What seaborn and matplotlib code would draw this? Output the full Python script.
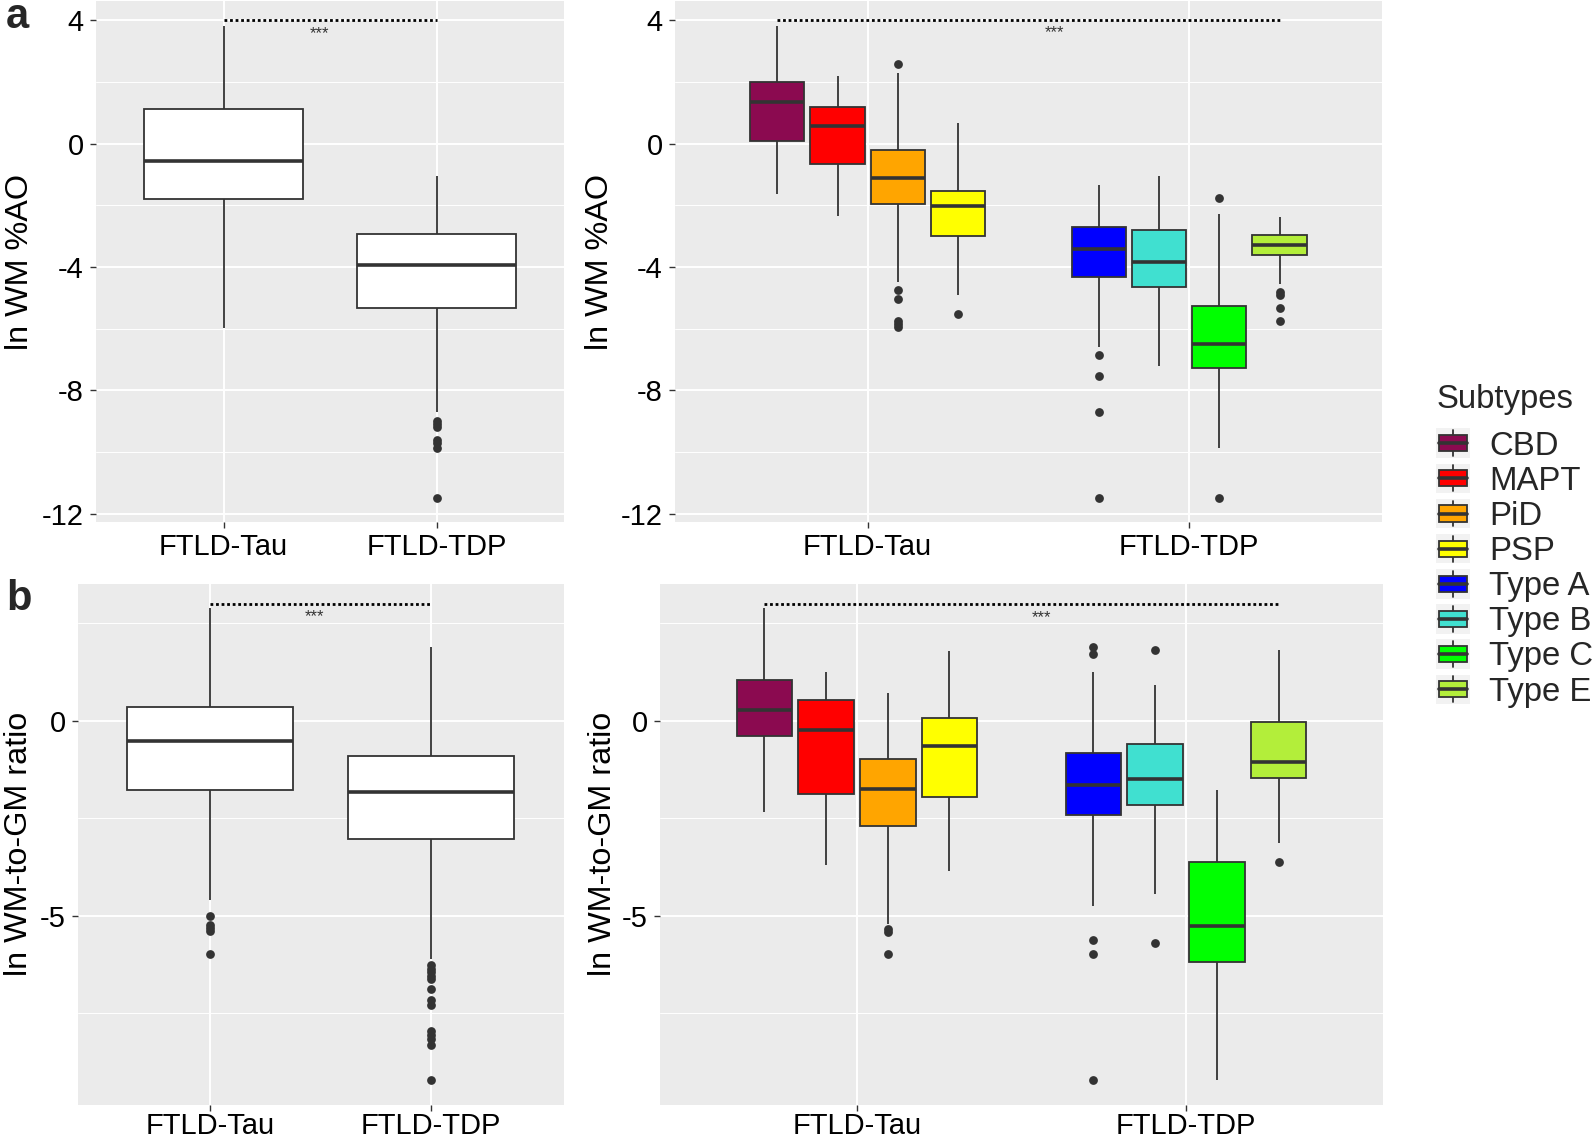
import pandas as pd
import seaborn as sns
import matplotlib.pyplot as plt
from matplotlib.patches import Patch, Rectangle
from matplotlib.lines import Line2D
from matplotlib.legend_handler import HandlerBase

# grupos y subtipos
groups = ["FTLD-Tau", "FTLD-TDP"]
subtypes = ["CBD", "MAPT", "PiD", "PSP", "Type A", "Type B", "Type C", "Type E"]
subtype_group = [0, 0, 0, 0, 1, 1, 1, 1]
subtype_colors = ["#8B0A50", "#FF0000", "#FFA500", "#FFFF00",
                  "#0000FF", "#40E0D0", "#00FF00", "#B3EE3A"]

# a) ln WM %AO por grupo: bigote inf, Q1, mediana, Q3, bigote sup
wm_grp_lo = [-5.99, -8.70]
wm_grp_q1 = [-1.80, -5.32]
wm_grp_med = [-0.55, -3.93]
wm_grp_q3 = [1.12, -2.92]
wm_grp_hi = [3.82, -1.04]
wm_grp_out = [[], [-9.0, -9.1, -9.2, -9.6, -9.7, -9.87, -11.5]]

# a) ln WM %AO por subtipo
wm_sub_lo = [-1.63, -2.36, -4.49, -4.91, -6.61, -7.21, -9.86, -4.54]
wm_sub_q1 = [0.07, -0.67, -1.95, -3.01, -4.32, -4.64, -7.28, -3.62]
wm_sub_med = [1.36, 0.57, -1.12, -2.02, -3.43, -3.85, -6.49, -3.29]
wm_sub_q3 = [1.98, 1.18, -0.22, -1.53, -2.72, -2.81, -5.27, -2.97]
wm_sub_hi = [3.82, 2.20, 2.28, 0.67, -1.34, -1.04, -2.27, -2.38]
wm_sub_out = [[], [], [2.59, -4.74, -5.05, -5.76, -5.86, -5.96], [-5.51],
              [-6.86, -7.55, -8.71, -11.50], [], [-1.77, -11.50],
              [-4.80, -4.91, -5.32, -5.76]]

# b) ln WM-to-GM ratio por grupo
rt_grp_lo = [-4.59, -6.11]
rt_grp_q1 = [-1.77, -3.02]
rt_grp_med = [-0.51, -1.81]
rt_grp_q3 = [0.37, -0.91]
rt_grp_hi = [2.90, 1.89]
rt_grp_out = [[-5.01, -5.23, -5.32, -5.40, -5.97],
              [-6.27, -6.35, -6.45, -6.55, -6.62, -6.88, -7.15, -7.28,
               -7.94, -8.05, -8.15, -8.31, -9.22]]

# b) ln WM-to-GM ratio por subtipo
rt_sub_lo = [-2.34, -3.69, -5.20, -3.85, -4.74, -4.45, -9.22, -3.12]
rt_sub_q1 = [-0.39, -1.88, -2.69, -1.95, -2.41, -2.15, -6.18, -1.46]
rt_sub_med = [0.28, -0.24, -1.75, -0.64, -1.63, -1.48, -5.26, -1.04]
rt_sub_q3 = [1.06, 0.55, -0.98, 0.07, -0.83, -0.60, -3.63, -0.02]
rt_sub_hi = [2.90, 1.26, 0.72, 1.80, 1.25, 0.91, -1.78, 1.83]
rt_sub_out = [[], [], [-5.33, -5.42, -5.97], [],
              [1.90, 1.72, -5.61, -5.97, -9.22], [1.81, -5.69], [],
              [-3.63]]

LINE = "#333333"
TICK_FS = 21
TITLE_FS = 23.3
LEG_FS = 23.7

sns.set_theme(style="darkgrid", rc={
    "axes.facecolor": "#EBEBEB",
    "grid.color": "white",
    "xtick.bottom": True,
    "ytick.left": True,
})
plt.rcParams["font.family"] = ["Liberation Sans", "DejaVu Sans"]

# posiciones de las cajas dentro de cada grupo (dodge de ggplot)
slot = [0, 1, 2, 3, 0, 1, 2, 3]
positions = [1 + g + (s - 1.5) * 0.1875 for g, s in zip(subtype_group, slot)]


def long_frame(labels, lo, q1, med, q3, hi):
    rows = []
    for i, lab in enumerate(labels):
        for v in (lo[i], q1[i], med[i], q3[i], hi[i]):
            rows.append({"label": lab, "value": v})
    return pd.DataFrame(rows)


def outlier_frame(labels, outs):
    rows = [{"label": lab, "value": v} for lab, vals in zip(labels, outs) for v in vals]
    return pd.DataFrame(rows, columns=["label", "value"])


box_kw = dict(saturation=1, linecolor=LINE, linewidth=1.3, whis=(0, 100),
              showfliers=False, showcaps=False, medianprops={"linewidth": 2.6})


def style_axis(ax, ylim, yticks, yminor, ylabel, label_x, xpad):
    ax.set_ylim(*ylim)
    ax.set_yticks(yticks, [f"{t:g}" for t in yticks])
    ax.set_yticks(yminor, minor=True)
    ax.grid(True, which="major", color="white", linewidth=1.4)
    ax.grid(True, which="minor", axis="y", color="white", linewidth=0.7)
    ax.set_axisbelow(True)
    ax.tick_params(axis="both", which="major", labelsize=TICK_FS, length=4.6,
                   width=1.0, color=LINE, labelcolor="black", pad=4)
    ax.tick_params(axis="x", which="major", pad=xpad)
    ax.tick_params(which="minor", length=0)
    for sp in ax.spines.values():
        sp.set_visible(False)
    ax.set_xlabel("")
    ax.set_ylabel(ylabel, fontsize=TITLE_FS, color="black")
    ax.yaxis.set_label_coords(label_x, 0.5)


def sig_bar(ax, x1, x2, y, sx, sy):
    ax.plot([x1, x2], [y, y], color="black", linewidth=2, linestyle=(0, (1, 1)))
    ax.text(sx, sy, "***", ha="center", va="top", fontsize=12, color=LINE)


def group_panel(ax, lo, q1, med, q3, hi, outs):
    df = long_frame(groups, lo, q1, med, q3, hi)
    sns.boxplot(data=df, x="label", y="value", order=groups, ax=ax,
                color="white", width=0.75, **box_kw)
    sns.stripplot(data=outlier_frame(groups, outs), x="label", y="value",
                  order=groups, ax=ax, jitter=False, color=LINE, size=6.3,
                  linewidth=0)
    ax.set_xlim(-0.6, 1.6)
    ax.set_xticks([0, 1], groups)


def subtype_panel(ax, lo, q1, med, q3, hi, outs):
    df = long_frame(subtypes, lo, q1, med, q3, hi)
    df["pos"] = df["label"].map(dict(zip(subtypes, positions)))
    sns.boxplot(data=df, x="pos", y="value", hue="label", hue_order=subtypes,
                palette=subtype_colors, native_scale=True, dodge=False,
                width=0.9, legend=False, ax=ax, **box_kw)
    out = outlier_frame(subtypes, outs)
    out["pos"] = out["label"].map(dict(zip(subtypes, positions)))
    sns.scatterplot(data=out, x="pos", y="value", ax=ax, color=LINE, s=40,
                    linewidth=0, legend=False, zorder=5)
    ax.set_xlim(0.4, 2.6)
    ax.set_xticks([1, 2], groups)


fig = plt.figure(figsize=(15.94, 11.41), dpi=100)
ax_a1 = fig.add_axes([0.06004, 0.54242, 0.29398, 0.45670])
ax_a2 = fig.add_axes([0.42334, 0.54242, 0.44367, 0.45670])
ax_b1 = fig.add_axes([0.04862, 0.03190, 0.30508, 0.45618])
ax_b2 = fig.add_axes([0.41374, 0.03190, 0.45414, 0.45618])

group_panel(ax_a1, wm_grp_lo, wm_grp_q1, wm_grp_med, wm_grp_q3, wm_grp_hi, wm_grp_out)
style_axis(ax_a1, (-12.27, 4.62), [-12, -8, -4, 0, 4], [-10, -6, -2, 2],
           "ln WM %AO", -0.1287, 3.3)
sig_bar(ax_a1, 0, 1, 4.0, 0.45, 3.80)

subtype_panel(ax_a2, wm_sub_lo, wm_sub_q1, wm_sub_med, wm_sub_q3, wm_sub_hi, wm_sub_out)
style_axis(ax_a2, (-12.27, 4.62), [-12, -8, -4, 0, 4], [-10, -6, -2, 2],
           "ln WM %AO", -0.0841, 3.3)
sig_bar(ax_a2, positions[0], positions[-1], 4.0, 1.58, 3.83)

group_panel(ax_b1, rt_grp_lo, rt_grp_q1, rt_grp_med, rt_grp_q3, rt_grp_hi, rt_grp_out)
style_axis(ax_b1, (-9.84, 3.51), [-5, 0], [-7.5, -2.5, 2.5],
           "ln WM-to-GM ratio", -0.0903, 0.5)
sig_bar(ax_b1, 0, 1, 2.99, 0.47, 2.86)

subtype_panel(ax_b2, rt_sub_lo, rt_sub_q1, rt_sub_med, rt_sub_q3, rt_sub_hi, rt_sub_out)
style_axis(ax_b2, (-9.84, 3.51), [-5, 0], [-7.5, -2.5, 2.5],
           "ln WM-to-GM ratio", -0.0576, 0.5)
sig_bar(ax_b2, positions[0], positions[-1], 3.0, 1.56, 2.83)

fig.text(6 / 1594, 1 - 28 / 1141, "a", fontsize=30, fontweight="bold")
fig.text(6 / 1594, 1 - 610 / 1141, "b", fontsize=30, fontweight="bold")


class BoxKey(HandlerBase):
    def create_artists(self, legend, orig_handle, xdescent, ydescent,
                       width, height, fontsize, trans):
        x0, y0 = -xdescent, -ydescent
        bg = Rectangle((x0, y0), width, height, facecolor="#F2F2F2",
                       edgecolor="none", transform=trans)
        bw, bh = width * 0.82, height * 0.55
        bx, by = x0 + (width - bw) / 2, y0 + (height - bh) / 2
        cx = x0 + width / 2
        w1 = Line2D([cx, cx], [y0 + height * 0.06, by], color=LINE, lw=1.3,
                    transform=trans)
        w2 = Line2D([cx, cx], [by + bh, y0 + height * 0.94], color=LINE, lw=1.3,
                    transform=trans)
        box = Rectangle((bx, by), bw, bh, facecolor=orig_handle.get_facecolor(),
                        edgecolor=LINE, lw=1.3, transform=trans)
        med = Line2D([bx, bx + bw], [y0 + height / 2] * 2, color=LINE, lw=2.6,
                     transform=trans)
        return [bg, w1, w2, box, med]


# leyenda
fig.text(1436.5 / 1594, 1 - 399.5 / 1141, "Subtypes", fontsize=LEG_FS,
         va="center", ha="left")
handles = [Patch(facecolor=c) for c in subtype_colors]
fig.legend(handles, subtypes, loc="upper left",
           bbox_to_anchor=(1436 / 1594, 1 - 428.5 / 1141),
           frameon=False, fontsize=LEG_FS,
           borderpad=0, borderaxespad=0, handlelength=1.03, handleheight=1.0,
           labelspacing=0.065, handletextpad=0.58,
           handler_map={Patch: BoxKey()})

fig.savefig("out.png", dpi=100)
